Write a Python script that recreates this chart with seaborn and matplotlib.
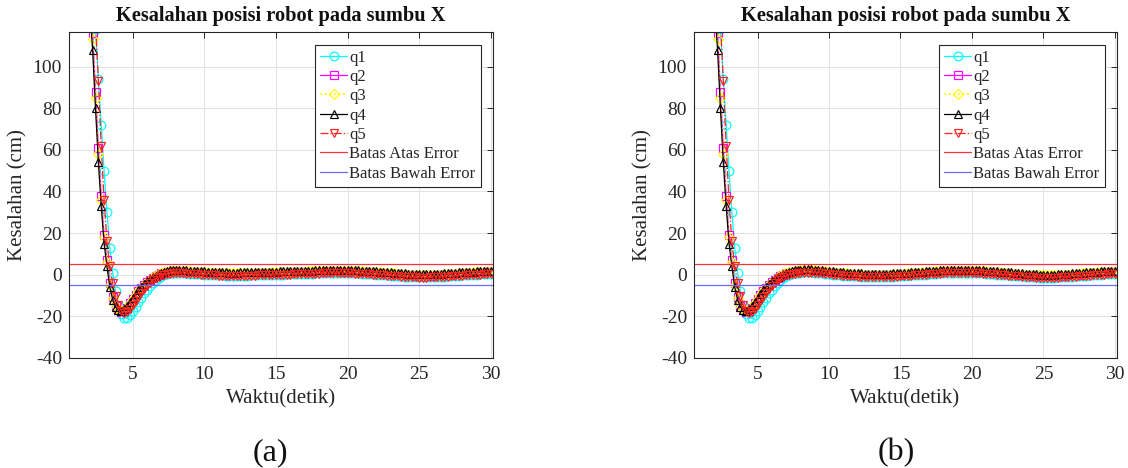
# -*- coding: utf-8 -*-
# Position error of the robot along the X axis, two runs side by side.
import numpy as np
import pandas as pd
import matplotlib
matplotlib.use('Agg')
import matplotlib.pyplot as plt
import seaborn as sns

# sample times (s): transient part and settled part
t_head = np.round(np.arange(1.8, 7.81, 0.2), 2)
t_tail = np.round(np.arange(8.0, 30.01, 0.25), 2)

# transient error (cm) (same in both runs)
q1_head = [210, 180, 146, 118, 94, 72, 50, 30, 13, 1, -8, -14.5, -19, -21, -20.8, -19.5,
           -17.6, -15.5, -13.3, -11.1, -9.0, -7.1, -5.4, -3.9, -2.6, -1.5, -0.7, -0.1, 0.4, 0.8, 1.0]
q2_head = [160, 137, 116, 88, 61, 38, 19, 7, -4, -10.5, -15, -17, -17.8, -17.2, -15.8, -13.8,
           -11.8, -9.8, -8.0, -6.4, -4.9, -3.6, -2.4, -1.4, -0.6, 0.1, 0.6, 1.0, 1.3, 1.5, 1.6]
q3_head = [158, 134, 113, 85, 58, 36, 18, 6, -5, -11, -15, -17, -17.6, -17, -15.6, -13.6,
           -11.6, -9.6, -7.9, -6.3, -4.8, -3.5, -2.3, -1.3, -0.5, 0.2, 0.8, 1.2, 1.5, 1.8, 1.9]
q4_head = [150, 128, 108, 80, 54, 33, 15, 4, -6, -12, -15.5, -17, -17.3, -16.5, -15, -13,
           -11, -9.2, -7.5, -6, -4.5, -3.2, -2.1, -1.2, -0.4, 0.3, 0.9, 1.4, 1.8, 2.1, 2.3]
q5_head = [195, 172, 148, 122, 93, 62, 36, 16, 4, -4, -10, -14.5, -17.5, -18.5, -18, -16.5,
           -14.6, -12.6, -10.6, -8.7, -6.9, -5.3, -3.9, -2.7, -1.7, -0.9, -0.3, 0.1, 0.4, 0.5, 0.6]

# settled error (cm), centre of the band, run (a) and run (b)
tail_a = [1.4, 1.3, 1.2, 1.1, 1.0, 0.9, 0.8, 0.7,
          0.6, 0.5, 0.4, 0.3, 0.2, 0.2, 0.1, 0.0,
          0.0, 0.0, 0.1, 0.1, 0.1, 0.2, 0.2, 0.3,
          0.3, 0.4, 0.4, 0.5, 0.5, 0.6, 0.6, 0.7,
          0.7, 0.8, 0.8, 0.9, 0.9, 1.0, 1.0, 1.1,
          1.1, 1.2, 1.2, 1.3, 1.3, 1.3, 1.3, 1.2,
          1.2, 1.2, 1.1, 1.1, 1.0, 0.9, 0.8, 0.7,
          0.6, 0.5, 0.4, 0.2, 0.1, 0.0, -0.1, -0.3,
          -0.4, -0.5, -0.6, -0.7, -0.8, -0.8, -0.8, -0.7,
          -0.7, -0.6, -0.5, -0.4, -0.3, -0.2, -0.1, 0.1,
          0.2, 0.3, 0.4, 0.5, 0.6, 0.7, 0.8, 0.8,
          0.9]
tail_b = [1.5, 1.6, 1.6, 1.6, 1.5, 1.4, 1.2, 1.0,
          0.8, 0.6, 0.4, 0.3, 0.1, 0.0, -0.1, -0.2,
          -0.3, -0.4, -0.5, -0.5, -0.6, -0.6, -0.6, -0.6,
          -0.5, -0.5, -0.4, -0.3, -0.2, -0.1, 0.0, 0.2,
          0.3, 0.4, 0.5, 0.6, 0.8, 0.9, 1.0, 1.1,
          1.2, 1.3, 1.3, 1.4, 1.4, 1.4, 1.4, 1.3,
          1.3, 1.2, 1.2, 1.1, 1.0, 0.9, 0.8, 0.6,
          0.5, 0.4, 0.2, 0.1, -0.1, -0.2, -0.3, -0.5,
          -0.6, -0.7, -0.8, -0.9, -0.9, -0.9, -0.9, -0.9,
          -0.8, -0.7, -0.7, -0.6, -0.4, -0.3, -0.2, 0.0,
          0.1, 0.2, 0.4, 0.5, 0.6, 0.7, 0.8, 0.9,
          0.9]
# where each series sits inside the settled band (cm)
tail_shift = {'q1': -0.5, 'q2': 0.3, 'q3': 0.6, 'q4': 1.0, 'q5': -0.6}

series = ['q1', 'q2', 'q3', 'q4', 'q5']
heads = {'q1': q1_head, 'q2': q2_head, 'q3': q3_head, 'q4': q4_head, 'q5': q5_head}
colors = {'q1': '#00ffff', 'q2': '#ff00ff', 'q3': '#ffff00', 'q4': '#000000', 'q5': '#ff2020'}
marks = {'q1': 'o', 'q2': 's', 'q3': 'D', 'q4': '^', 'q5': 'v'}
styles = {'q1': '-', 'q2': '-', 'q3': (0, (1.5, 1.5)), 'q4': '-', 'q5': '-.'}
err_limit = 5

sns.set_theme(style='white')
plt.rcParams['font.family'] = ['Liberation Serif', 'DejaVu Serif']
plt.rcParams['axes.unicode_minus'] = False

fig = plt.figure(figsize=(11.28, 4.68), dpi=100)
W, H = 1128, 468
axes = [fig.add_axes([69 / W, 110 / H, 424 / W, 326 / H]),
        fig.add_axes([694 / W, 110 / H, 423 / W, 326 / H])]

for ax, tail, tag, tag_x in zip(axes, [tail_a, tail_b], ['(a)', '(b)'], [270, 896]):
    rows = []
    for s in series:
        for t, v in zip(t_head, heads[s]):
            rows.append((t, v, s))
        for t, v in zip(t_tail, tail):
            rows.append((t, v + tail_shift[s], s))
    df = pd.DataFrame(rows, columns=['waktu', 'kesalahan', 'seri'])

    for s in series:
        sns.lineplot(data=df[df.seri == s], x='waktu', y='kesalahan', ax=ax,
                     color=colors[s], marker=marks[s], linestyle=styles[s],
                     markersize=6.3 if s != 'q3' else 5.2, mfc='none', mec=colors[s],
                     mew=0.85, lw=0.9 if s != 'q3' else 1.1, estimator=None, label=s)
    ax.axhline(err_limit, color='#ff3030', lw=0.9, label='Batas Atas Error')
    ax.axhline(-err_limit, color='#6a6aff', lw=0.9, label='Batas Bawah Error')

    ax.set_xlim(0.55, 30.15)
    ax.set_ylim(-40, 116.6)
    ax.set_xticks([5, 10, 15, 20, 25, 30])
    ax.set_yticks([-40, -20, 0, 20, 40, 60, 80, 100])
    ax.grid(True, color='#e2e2e2', lw=0.7)
    ax.set_axisbelow(True)
    for sp in ax.spines.values():
        sp.set_color('#262626')
        sp.set_linewidth(0.8)
    ax.tick_params(direction='in', top=True, right=True, length=4, width=0.7,
                   colors='#262626', labelsize=14)
    ax.tick_params(axis='x', pad=6)
    ax.tick_params(axis='y', pad=5)

    ax.set_title('Kesalahan posisi robot pada sumbu X', fontsize=14.7,
                 fontweight='bold', color='#111111', pad=8)
    ax.set_xlabel('Waktu(detik)', fontsize=15, color='#262626')
    ax.set_ylabel('Kesalahan (cm)', fontsize=15, color='#262626')
    ax.xaxis.set_label_coords(0.5, -0.095)
    ax.yaxis.set_label_coords(-0.098, 0.5)

    leg = ax.legend(loc='upper right', fontsize=12, frameon=True, fancybox=False,
                    framealpha=1, edgecolor='#262626', borderaxespad=0.75,
                    handlelength=1.6, handletextpad=0.15, labelspacing=0.2,
                    borderpad=0.3)
    leg.get_frame().set_linewidth(0.8)

    fig.text(tag_x / W, 1 - 453 / H, tag, fontsize=23, ha='center', va='center',
             color='#111111')

fig.savefig('out.png', dpi=100)
